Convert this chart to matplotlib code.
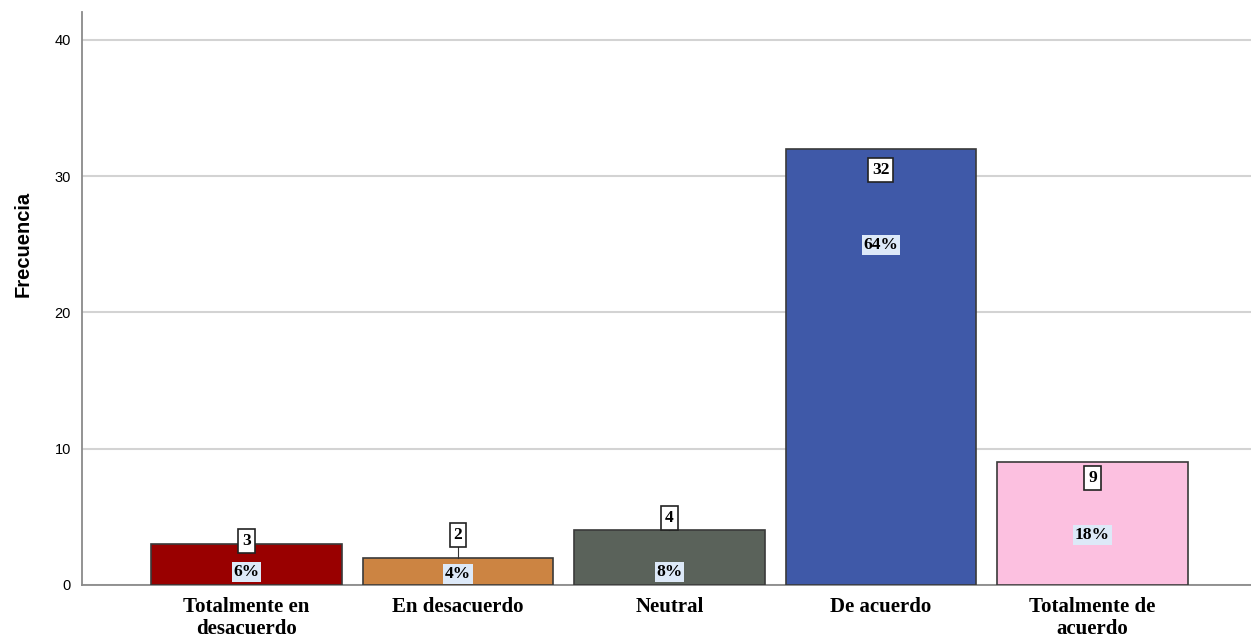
import matplotlib.pyplot as plt

categories = ["Totalmente en\ndesacuerdo", "En desacuerdo", "Neutral",
              "De acuerdo", "Totalmente de\nacuerdo"]
counts = [3, 2, 4, 32, 9]
percents = [6, 4, 8, 64, 18]

bar_colors = ["#990000", "#cc8442", "#5a625a", "#3f59a8", "#fcc0e0"]

# where SPSS puts the count and percent boxes (data units)
count_y = [3.23, 3.67, 4.92, 30.45, 7.85]
pct_y = [0.95, 0.8, 0.95, 24.95, 3.67]


def main():
    fig = plt.figure(figsize=(12.51, 6.37), dpi=100)
    ax = fig.add_axes([82 / 1251, 52 / 637, 1 - 82 / 1251, (585 - 12) / 637])

    x = list(range(len(categories)))
    ax.bar(x, counts, width=0.9, color=bar_colors, edgecolor="#3a3a3a",
           linewidth=1.2, zorder=3)

    for i, (c, p) in enumerate(zip(counts, percents)):
        if count_y[i] > c:
            ax.plot([i, i], [c, count_y[i]], color="#333333", lw=0.8, zorder=4)
        ax.text(i, count_y[i], str(c), ha="center", va="center",
                family="Liberation Serif", weight="bold", fontsize=12.5, zorder=5,
                bbox=dict(boxstyle="square,pad=0.22", fc="white", ec="#222222", lw=1.2))
        ax.text(i, pct_y[i], f"{p}%", ha="center", va="center",
                family="Liberation Serif", weight="bold", fontsize=12.5, zorder=5,
                bbox=dict(boxstyle="square,pad=0.1", fc="#dde9f8", ec="none"))

    ax.set_xlim(-0.778, 4.75)
    ax.set_ylim(0, 42.05)
    ax.set_yticks([0, 10, 20, 30, 40])
    ax.yaxis.grid(True, color="#d3d3d3", lw=1.5, zorder=0)
    ax.set_axisbelow(True)

    ax.set_xticks(x)
    ax.set_xticklabels(categories, family="Liberation Serif", weight="bold",
                       fontsize=15, linespacing=1.1)
    ax.tick_params(axis="x", length=0, pad=9)
    ax.tick_params(axis="y", length=0, pad=8, labelsize=10.5)
    for lab in ax.get_yticklabels():
        lab.set_family("Liberation Sans")

    ax.set_ylabel("Frecuencia", family="Liberation Sans", weight="bold",
                  fontsize=14.5)
    ax.yaxis.set_label_coords(-0.042, 0.595)

    for side in ["top", "right"]:
        ax.spines[side].set_visible(False)
    ax.spines["left"].set_color("#8a8a8a")
    ax.spines["left"].set_linewidth(1.3)
    ax.spines["bottom"].set_color("#8a8a8a")
    ax.spines["bottom"].set_linewidth(1.3)

    fig.savefig("out.png", dpi=100)
    plt.close(fig)


if __name__ == "__main__":
    main()
